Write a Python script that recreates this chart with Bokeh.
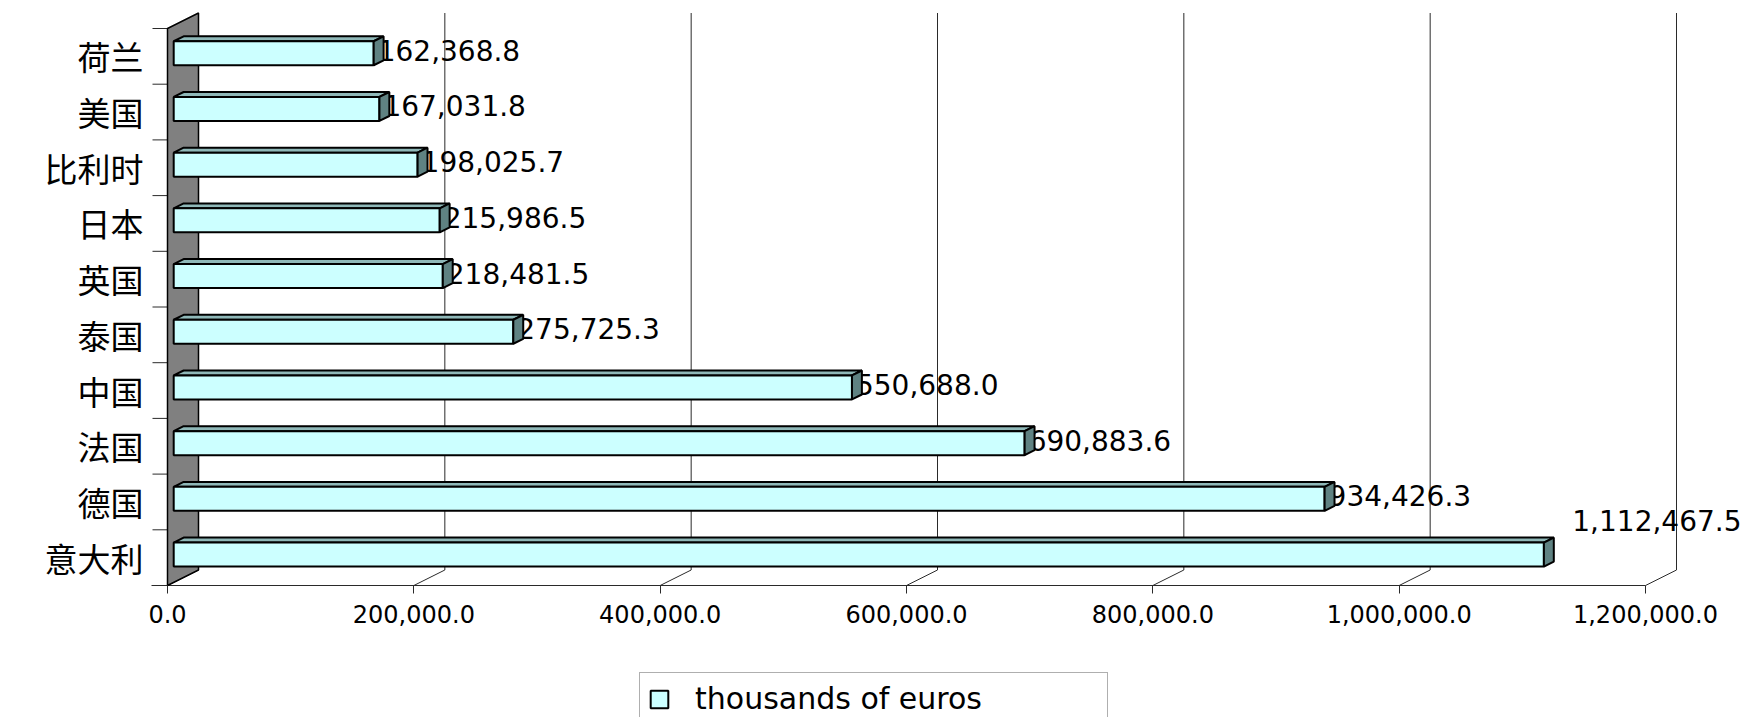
from bokeh.plotting import figure
from bokeh.models import (ColumnDataSource, FixedTicker, NumeralTickFormatter,
                          Range1d, Legend, LegendItem)
from bokeh.core.properties import value
from bokeh.embed import file_html
from bokeh.resources import INLINE

# ---------------- data ----------------
categories = ["意大利", "德国", "法国", "中国", "泰国", "英国", "日本", "比利时", "美国", "荷兰"]
values = [1112467.5, 934426.3, 690883.6, 550688.0, 275725.3,
          218481.5, 215986.5, 198025.7, 167031.8, 162368.8]
x_ticks = [0, 200000, 400000, 600000, 800000, 1000000, 1200000]
series_name = "thousands of euros"

# ---------------- geometry (pixels) ----------------
FRAME_W, FRAME_H = 1744, 717
X_MAX = x_ticks[-1]
SX = 1478.0 / X_MAX          # px per euro unit (front plane)
CAT_PX = 55.7                # px per category
LEFT_PAD_PX = 167            # frame extends this far left of 0
FLOOR_PAD_PX = 132           # frame bottom below floor line
TICK_L_PX = 15
DEPTH_DX_PX, DEPTH_DY_PX = 31.0, 15.5
BAR_D1, BAR_D2 = 0.2, 0.52
BAR_H_PX = 24.0

ux = 1.0 / SX
uy = 1.0 / CAT_PX
x_start = -LEFT_PAD_PX * ux
x_end = x_start + FRAME_W * ux
y_start = -FLOOR_PAD_PX * uy
y_end = y_start + FRAME_H * uy
ddx, ddy = DEPTH_DX_PX * ux, DEPTH_DY_PX * uy
n = len(categories)

p = figure(frame_width=FRAME_W, frame_height=FRAME_H,
           x_range=Range1d(x_start, x_end), y_range=Range1d(y_start, y_end),
           output_backend="svg", toolbar_location=None,
           min_border_left=0, min_border_right=0, min_border_top=0,
           min_border_bottom=0)
p.xgrid.visible = False
p.ygrid.visible = False
p.outline_line_color = None
p.background_fill_color = "white"
p.border_fill_color = "white"

GRID = "#2a2a2a"
# ---------------- back wall gridlines & floor ----------------
gx = [t + ddx for t in x_ticks[1:]]
p.segment(x0=gx, y0=[ddy] * len(gx), x1=gx, y1=[n + ddy] * len(gx),
          line_color=GRID, line_width=1)
p.segment(x0=x_ticks, y0=[0] * len(x_ticks),
          x1=[t + ddx for t in x_ticks], y1=[ddy] * len(x_ticks),
          line_color=GRID, line_width=1)
p.segment(x0=[-(TICK_L_PX + 1) * ux], y0=[0], x1=[X_MAX], y1=[0],
          line_color=GRID, line_width=1)
p.segment(x0=[-TICK_L_PX * ux] * n, y0=list(range(1, n + 1)),
          x1=[0] * n, y1=list(range(1, n + 1)),
          line_color=GRID, line_width=1)

# ---------------- left wall ----------------
p.patch(x=[0, ddx, ddx, 0], y=[0, ddy, n + ddy, n],
        fill_color="#808080", line_color="black", line_width=1.5)

# ---------------- bars ----------------
lefts, rights, bottoms, tops = [], [], [], []
top_xs, top_ys, end_xs, end_ys = [], [], [], []
bh = BAR_H_PX * uy
fx, fy = BAR_D1 * ddx, BAR_D1 * ddy
bx, by = (BAR_D2 - BAR_D1) * ddx, (BAR_D2 - BAR_D1) * ddy
for i, v in enumerate(values):
    yc = i + 0.5 + fy
    xl, xr = fx, v + fx
    yb, yt = yc - bh / 2, yc + bh / 2
    lefts.append(xl); rights.append(xr); bottoms.append(yb); tops.append(yt)
    top_xs.append([xl, xl + bx, xr + bx, xr]); top_ys.append([yt, yt + by, yt + by, yt])
    end_xs.append([xr, xr, xr + bx, xr + bx]); end_ys.append([yb, yt, yt + by, yb + by])

# value labels (drawn first: bars overlap them as in the original)
LABEL_PX = 28
lab_x, lab_y, lab_t, lab_a = [], [], [], []
for i, v in enumerate(values):
    txt = f"{v:,.1f}"
    x = rights[i] + 4 * ux
    y = i + 0.5 + fy + 3 * uy
    est_w = len(txt) * 0.68 * LABEL_PX * ux
    if x + est_w > x_end:
        # no room at the bar end: right-aligned at the edge, lifted above the bar
        lab_x.append(x_end - 3 * ux); lab_a.append("right"); lab_y.append(y + 31 * uy)
    else:
        lab_x.append(x); lab_a.append("left"); lab_y.append(y)
    lab_t.append(txt)
p.text(x="x", y="y", text="t", text_align="a",
       source=ColumnDataSource(dict(x=lab_x, y=lab_y, t=lab_t, a=lab_a)),
       text_font=value("DejaVu Sans"), text_font_size=value(f"{LABEL_PX}px"),
       text_baseline="middle", text_color="black")

p.patches(xs=top_xs, ys=top_ys, fill_color="#8FB8B8", line_color="black", line_width=2)
front = p.quad(left="l", right="r", bottom="b", top="t",
               source=ColumnDataSource(dict(l=lefts, r=rights, b=bottoms, t=tops)),
               fill_color="#CCFFFF", line_color="black", line_width=2)
p.patches(xs=end_xs, ys=end_ys, fill_color="#5F8282", line_color="black", line_width=2)

# ---------------- axes ----------------
p.xaxis.fixed_location = 0
p.xaxis.ticker = FixedTicker(ticks=x_ticks)
p.xaxis.formatter = NumeralTickFormatter(format="0,0.0")
p.xaxis.axis_line_color = None
p.xaxis.major_tick_in = 0
p.xaxis.major_tick_out = 8
p.xaxis.major_tick_line_color = GRID
p.xaxis.minor_tick_line_color = None
p.xaxis.major_label_standoff = 11
p.xaxis.major_label_text_font = "DejaVu Sans"
p.xaxis.major_label_text_font_size = "24px"
p.xaxis.major_label_text_color = "black"

p.yaxis.fixed_location = 0
p.yaxis.ticker = FixedTicker(ticks=[i + 0.5 for i in range(n)])
p.yaxis.major_label_overrides = {i + 0.5: c for i, c in enumerate(categories)}
p.yaxis.axis_line_color = None
p.yaxis.major_tick_in = 0
p.yaxis.major_tick_out = 0
p.yaxis.minor_tick_line_color = None
p.yaxis.major_label_standoff = 24
p.yaxis.major_label_text_font = "Noto Sans CJK SC"
p.yaxis.major_label_text_font_size = "33px"
p.yaxis.major_label_text_color = "black"

# ---------------- legend ----------------
legend = Legend(items=[LegendItem(label=series_name, renderers=[front])],
                location=(639, -8), orientation="horizontal",
                label_text_font="DejaVu Sans", label_text_font_size="30px",
                label_text_color="black",
                glyph_width=22, glyph_height=22, label_standoff=25,
                padding=8, margin=0, label_width=404,
                border_line_color="#606060", border_line_width=1,
                background_fill_color="white", background_fill_alpha=1)
p.add_layout(legend, "center")

open("out.html", "w").write(file_html(p, INLINE))
